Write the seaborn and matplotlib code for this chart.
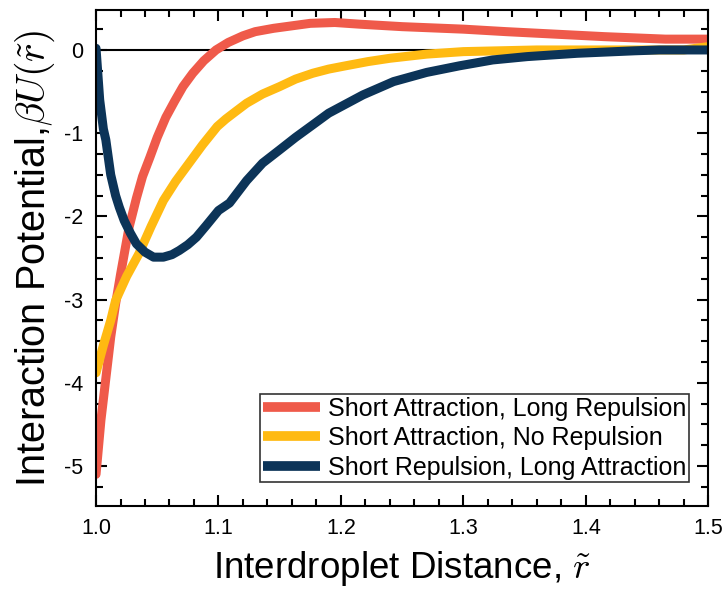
import matplotlib
matplotlib.use('Agg')
import matplotlib.pyplot as plt
import seaborn as sns
import pandas as pd
from matplotlib.ticker import MultipleLocator

# curves
red_x = [1.000, 1.004, 1.008, 1.012, 1.016, 1.020, 1.027, 1.033, 1.038, 1.044, 1.050, 1.057,
         1.064, 1.071, 1.079, 1.088, 1.098, 1.108, 1.120, 1.130, 1.145, 1.160, 1.175, 1.195,
         1.215, 1.250, 1.300, 1.335, 1.375, 1.415, 1.465, 1.500]
red_y = [-5.10, -4.45, -3.95, -3.45, -3.05, -2.70, -2.13, -1.78, -1.52, -1.29, -1.05, -0.81,
         -0.62, -0.44, -0.28, -0.13, 0.00, 0.09, 0.17, 0.22, 0.26, 0.29, 0.32, 0.33,
         0.31, 0.28, 0.25, 0.22, 0.19, 0.16, 0.13, 0.13]

yellow_x = [1.000, 1.006, 1.012, 1.016, 1.025, 1.035, 1.045, 1.055, 1.065, 1.076, 1.087, 1.099,
            1.106, 1.114, 1.123, 1.136, 1.150, 1.163, 1.177, 1.190, 1.204, 1.222, 1.240, 1.270,
            1.300, 1.330, 1.360, 1.400, 1.450, 1.480, 1.500]
yellow_y = [-3.88, -3.55, -3.25, -3.01, -2.72, -2.45, -2.12, -1.81, -1.58, -1.36, -1.14, -0.92,
            -0.83, -0.74, -0.64, -0.53, -0.44, -0.35, -0.28, -0.23, -0.19, -0.14, -0.10, -0.05,
            -0.02, -0.01, 0.00, 0.00, 0.00, 0.00, 0.04]

blue_x = [1.000, 1.003, 1.006, 1.008, 1.012, 1.016, 1.019, 1.023, 1.028, 1.033, 1.040, 1.047,
          1.055, 1.062, 1.068, 1.075, 1.082, 1.090, 1.100, 1.109, 1.123, 1.136, 1.150, 1.163,
          1.177, 1.190, 1.204, 1.218, 1.243, 1.270, 1.297, 1.324, 1.352, 1.393, 1.440, 1.460,
          1.500]
blue_y = [0.02, -0.60, -0.95, -1.08, -1.50, -1.75, -1.89, -2.05, -2.20, -2.33, -2.43, -2.49,
          -2.49, -2.46, -2.41, -2.34, -2.25, -2.11, -1.93, -1.84, -1.57, -1.36, -1.20, -1.05,
          -0.90, -0.76, -0.65, -0.54, -0.38, -0.27, -0.19, -0.12, -0.08, -0.04, -0.01, 0.00,
          0.00]

labels = ['Short Attraction, Long Repulsion',
          'Short Attraction, No Repulsion',
          'Short Repulsion, Long Attraction']
colors = ['#EF5A4A', '#FFBA12', '#0C3458']

df = pd.concat([
    pd.DataFrame({'r': red_x, 'U': red_y, 'case': labels[0]}),
    pd.DataFrame({'r': yellow_x, 'U': yellow_y, 'case': labels[1]}),
    pd.DataFrame({'r': blue_x, 'U': blue_y, 'case': labels[2]}),
])

sns.set_style('ticks')
plt.rcParams['font.family'] = ['Liberation Sans', 'DejaVu Sans']
plt.rcParams['mathtext.fontset'] = 'cm'
plt.rcParams['text.color'] = 'black'
plt.rcParams['axes.labelcolor'] = 'black'
plt.rcParams['xtick.color'] = 'black'
plt.rcParams['ytick.color'] = 'black'

fig, ax = plt.subplots(figsize=(7.22, 5.89), dpi=100)
fig.subplots_adjust(left=0.133, right=0.981, top=0.983, bottom=0.141)

ax.axhline(0, color='black', lw=1.5, zorder=1)
sns.lineplot(data=df, x='r', y='U', hue='case', palette=colors, hue_order=labels,
             estimator=None, sort=False, lw=6.5, ax=ax, zorder=2)

ax.set_xlim(1.0, 1.5)
ax.set_ylim(-5.48, 0.48)
ax.xaxis.set_major_locator(MultipleLocator(0.1))
ax.xaxis.set_minor_locator(MultipleLocator(0.02))
ax.yaxis.set_major_locator(MultipleLocator(1))
ax.yaxis.set_minor_locator(MultipleLocator(0.25))
ax.xaxis.set_major_formatter(plt.FuncFormatter(lambda v, p: f'{v:.1f}'))
ax.yaxis.set_major_formatter(plt.FuncFormatter(lambda v, p: f'{int(round(v))}'))

ax.tick_params(which='both', direction='in', top=True, right=True, labelsize=15.5, width=1.5)
ax.tick_params(which='major', length=8, pad=9)
ax.tick_params(which='minor', length=5)
for s in ax.spines.values():
    s.set_linewidth(1.5)
    s.set_color('black')

ax.set_xlabel('Interdroplet Distance, $\\tilde{r}$', fontsize=26.5, labelpad=7)
ax.set_ylabel('Interaction Potential,$\\beta U(\\tilde{r})$', fontsize=28.5, labelpad=5)

leg = ax.legend(loc='lower right', bbox_to_anchor=(0.968, 0.048), borderaxespad=0,
                fontsize=18, frameon=True, fancybox=False, edgecolor='black',
                handlelength=2.3, handletextpad=0.3, labelspacing=0.22, borderpad=0.1)
leg.get_frame().set_linewidth(1.2)
for line in leg.get_lines():
    line.set_linewidth(7)
    line.set_solid_capstyle('butt')

plt.savefig('out.png', dpi=100)
